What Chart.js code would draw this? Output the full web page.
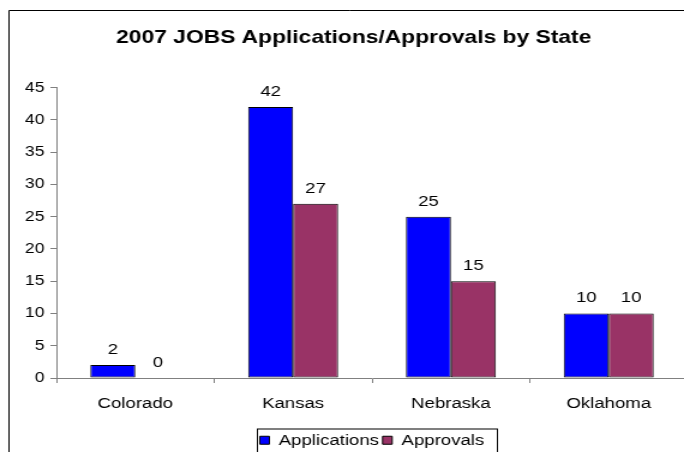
<!DOCTYPE html>
<html>
<head>
    <meta charset="UTF-8">
    <title>2007 JOBS Applications/Approvals by State</title>
    <script src="https://cdn.jsdelivr.net/npm/chart.js"></script>
    <style>
       html, body {
           margin: 0;
           padding: 0;
           overflow: hidden;
           background: #fff;
       }
       /* the chart is laid out narrow and widened, so the Arial text comes out broad */
       .chart-container {
           width: 574px;
           height: 460px;
           transform: scaleX(1.2);
           transform-origin: 0 0;
       }
   </style>
</head>
<body>
   <div class="chart-container">
       <canvas id="jobsChart"></canvas>
   </div>

    <script>
    const states = ['Colorado', 'Kansas', 'Nebraska', 'Oklahoma'];
    const applications = [2, 42, 25, 10];
    const approvals = [0, 27, 15, 10];
    const yMax = 45;
    const yStep = 5;

    const FONT = '"Liberation Sans", Arial, sans-serif';

    // black frame along the left and top edges
    const framePlugin = {
        id: 'frame',
        afterDraw(chart) {
            const ctx = chart.ctx;
            ctx.save();
            ctx.strokeStyle = '#000';
            ctx.lineWidth = 1;
            ctx.beginPath();
            ctx.moveTo(7.5, chart.height + 5);
            ctx.lineTo(7.5, 10.5);
            ctx.lineTo(chart.width + 5, 10.5);
            ctx.stroke();
            ctx.restore();
        }
    };

    // value written above every bar
    const valueLabels = {
        id: 'valueLabels',
        afterDatasetsDraw(chart) {
            const ctx = chart.ctx;
            ctx.save();
            ctx.font = '15.5px ' + FONT;
            ctx.fillStyle = '#000';
            ctx.textAlign = 'center';
            ctx.textBaseline = 'middle';
            chart.data.datasets.forEach((ds, i) => {
                chart.getDatasetMeta(i).data.forEach((bar, j) => {
                    ctx.fillText(String(ds.data[j]), bar.x, bar.y - 15.5);
                });
            });
            ctx.restore();
        }
    };

    // thin box round the legend entries
    const legendBox = {
        id: 'legendBox',
        afterDraw(chart) {
            const boxes = chart.legend && chart.legend.legendHitBoxes;
            if (!boxes || !boxes.length) return;
            const first = boxes[0];
            const last = boxes[boxes.length - 1];
            const ctx = chart.ctx;
            ctx.save();
            ctx.strokeStyle = '#000';
            ctx.lineWidth = 1;
            ctx.strokeRect(first.left - 2, first.top - 3.5, last.left + last.width - first.left + 13, 40);
            ctx.restore();
        }
    };

    new Chart('jobsChart', {
        type: 'bar',
        data: {
            labels: states,
            datasets: [{
                label: 'Applications',
                data: applications,
                backgroundColor: '#0000FF',
                borderColor: '#000',
                borderWidth: 1,
                borderSkipped: false
            }, {
                label: 'Approvals',
                data: approvals,
                backgroundColor: '#993366',
                borderColor: '#000',
                borderWidth: 1,
                borderSkipped: false
            }]
        },
        options: {
            maintainAspectRatio: false,
            animation: false,
            events: [],
            layout: {
                padding: { left: 16.5, right: 1, top: 0, bottom: 2 }
            },
            datasets: {
                bar: { categoryPercentage: 0.57, barPercentage: 1.0 }
            },
            scales: {
                x: {
                    afterFit(scale) { scale.height = 51.5; },
                    grid: {
                        display: true,
                        drawOnChartArea: false,
                        drawTicks: true,
                        tickLength: 5,
                        color: '#808080'
                    },
                    border: { color: '#808080' },
                    ticks: {
                        color: '#000',
                        padding: 11.4,
                        maxRotation: 0,
                        font: { family: FONT, size: 15.5 }
                    }
                },
                y: {
                    min: 0,
                    max: yMax,
                    afterFit(scale) { scale.width = 30.5; },
                    grid: {
                        display: true,
                        drawOnChartArea: false,
                        drawTicks: true,
                        tickLength: 5,
                        color: '#808080'
                    },
                    border: { color: '#808080' },
                    ticks: {
                        stepSize: yStep,
                        color: '#000',
                        padding: 5,
                        font: { family: FONT, size: 14.5 }
                    }
                }
            },
            plugins: {
                title: {
                    display: true,
                    text: '2007 JOBS Applications/Approvals by State',
                    color: '#000',
                    font: { family: FONT, size: 19, weight: 'bold' },
                    padding: { top: 26.6, bottom: 38.3 }
                },
                legend: {
                    position: 'bottom',
                    fullSize: false,
                    labels: {
                        color: '#000',
                        boxWidth: 8,
                        boxHeight: 8,
                        padding: 3,
                        font: { family: FONT, size: 15.5 }
                    }
                },
                tooltip: { enabled: false }
            }
        },
        plugins: [valueLabels, legendBox, framePlugin]
    });
    </script>
</body>
</html>
